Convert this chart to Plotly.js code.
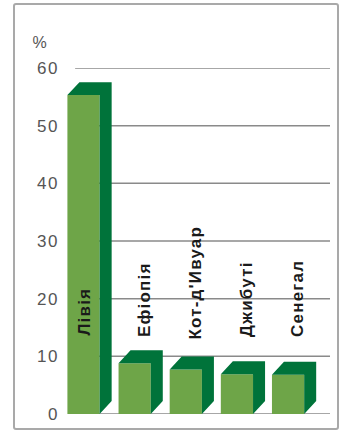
<!DOCTYPE html>
<html><head><meta charset="utf-8">
<script src="https://cdn.plot.ly/plotly-3.0.1.min.js"></script>
<style>
html,body{margin:0;padding:0;background:#fff;}
#chart{position:absolute;left:0;top:0;width:340px;height:431px;}
#frame{position:absolute;left:13px;top:3px;width:322px;height:423px;border:2px solid #a9a9a9;border-radius:3px;pointer-events:none;}
#chart .annotation-text{letter-spacing:1.2px;}
#chart .ytick text{letter-spacing:1.5px;}
</style>
</head><body>
<div id="chart"></div><div id="frame"></div>
<script>
// Data
const countries = ['Лівія', 'Ефіопія', 'Кот-д\'Ивуар', 'Джибуті', 'Сенегал'];
const values = [55.3, 8.8, 7.7, 6.9, 6.8];
const yTicks = [0, 10, 20, 30, 40, 50, 60];
const yTickLabels = ['0', '10', '20', '30', '40', '50', '60'];
const unitLabel = '%';

// Style / geometry
const frontColor = '#6ea548';
const darkColor = '#00733a';
const barWidth = 0.63;
const depthX = 0.235;   // depth offset in x units
const depthY = 2.25;    // depth offset in y units

const xs = countries.map((_, i) => i);

// Top + side faces of the pseudo-3D bars
const px = [], py = [];
values.forEach((v, i) => {
  const L = xs[i] - barWidth / 2, R = xs[i] + barWidth / 2;
  px.push(L, L + depthX, R + depthX, R + depthX, R, R, L, null);
  py.push(v, v + depthY, v + depthY, depthY, 0, v, v, null);
});

const traces = [
  {type: 'bar', x: xs, y: values, width: barWidth,
   marker: {color: frontColor, line: {width: 0}}, hoverinfo: 'skip'},
  {type: 'scatter', mode: 'lines', x: px, y: py, fill: 'toself',
   fillcolor: darkColor, line: {width: 0, color: darkColor}, hoverinfo: 'skip'}
];

const shapes = yTicks.map(t => ({
  type: 'line', xref: 'paper', yref: 'y', x0: 0.056, x1: 1, y0: t, y1: t,
  layer: 'below', line: {color: '#8a8a8a', width: 1.5}
}));

const annotations = countries.map((c, i) => ({
  x: xs[i] + (i === 0 ? 0 : 0.18), y: 13.7, xref: 'x', yref: 'y',
  text: c, textangle: -90, showarrow: false,
  xanchor: 'center', yanchor: 'bottom',
  font: {family: 'Liberation Sans, Arial, sans-serif', size: 17, color: '#1a1a1a', weight: 'bold'}
}));
annotations.push({
  x: -0.074, y: 1.075, xref: 'paper', yref: 'paper', text: unitLabel,
  showarrow: false, xanchor: 'center', yanchor: 'middle',
  font: {family: 'Liberation Sans, Arial, sans-serif', size: 16, color: '#555'}
});

const layout = {
  width: 340, height: 431,
  margin: {l: 60, r: 10, t: 68, b: 16.7, pad: 0},
  paper_bgcolor: 'rgba(0,0,0,0)', plot_bgcolor: 'rgba(0,0,0,0)',
  showlegend: false,
  xaxis: {range: [-0.46, 4.82], visible: false, fixedrange: true},
  yaxis: {range: [0, 60], tickvals: yTicks, ticktext: yTickLabels,
          showgrid: false, zeroline: false, showline: false, ticks: '',
          ticklabelstandoff: 12.5,
          tickfont: {family: 'Liberation Sans, Arial, sans-serif', size: 17, color: '#555'}},
  shapes: shapes,
  annotations: annotations,
  font: {family: 'Liberation Sans, Arial, sans-serif'}
};

Plotly.newPlot('chart', traces, layout, {staticPlot: true, displayModeBar: false});
</script>
</body></html>
